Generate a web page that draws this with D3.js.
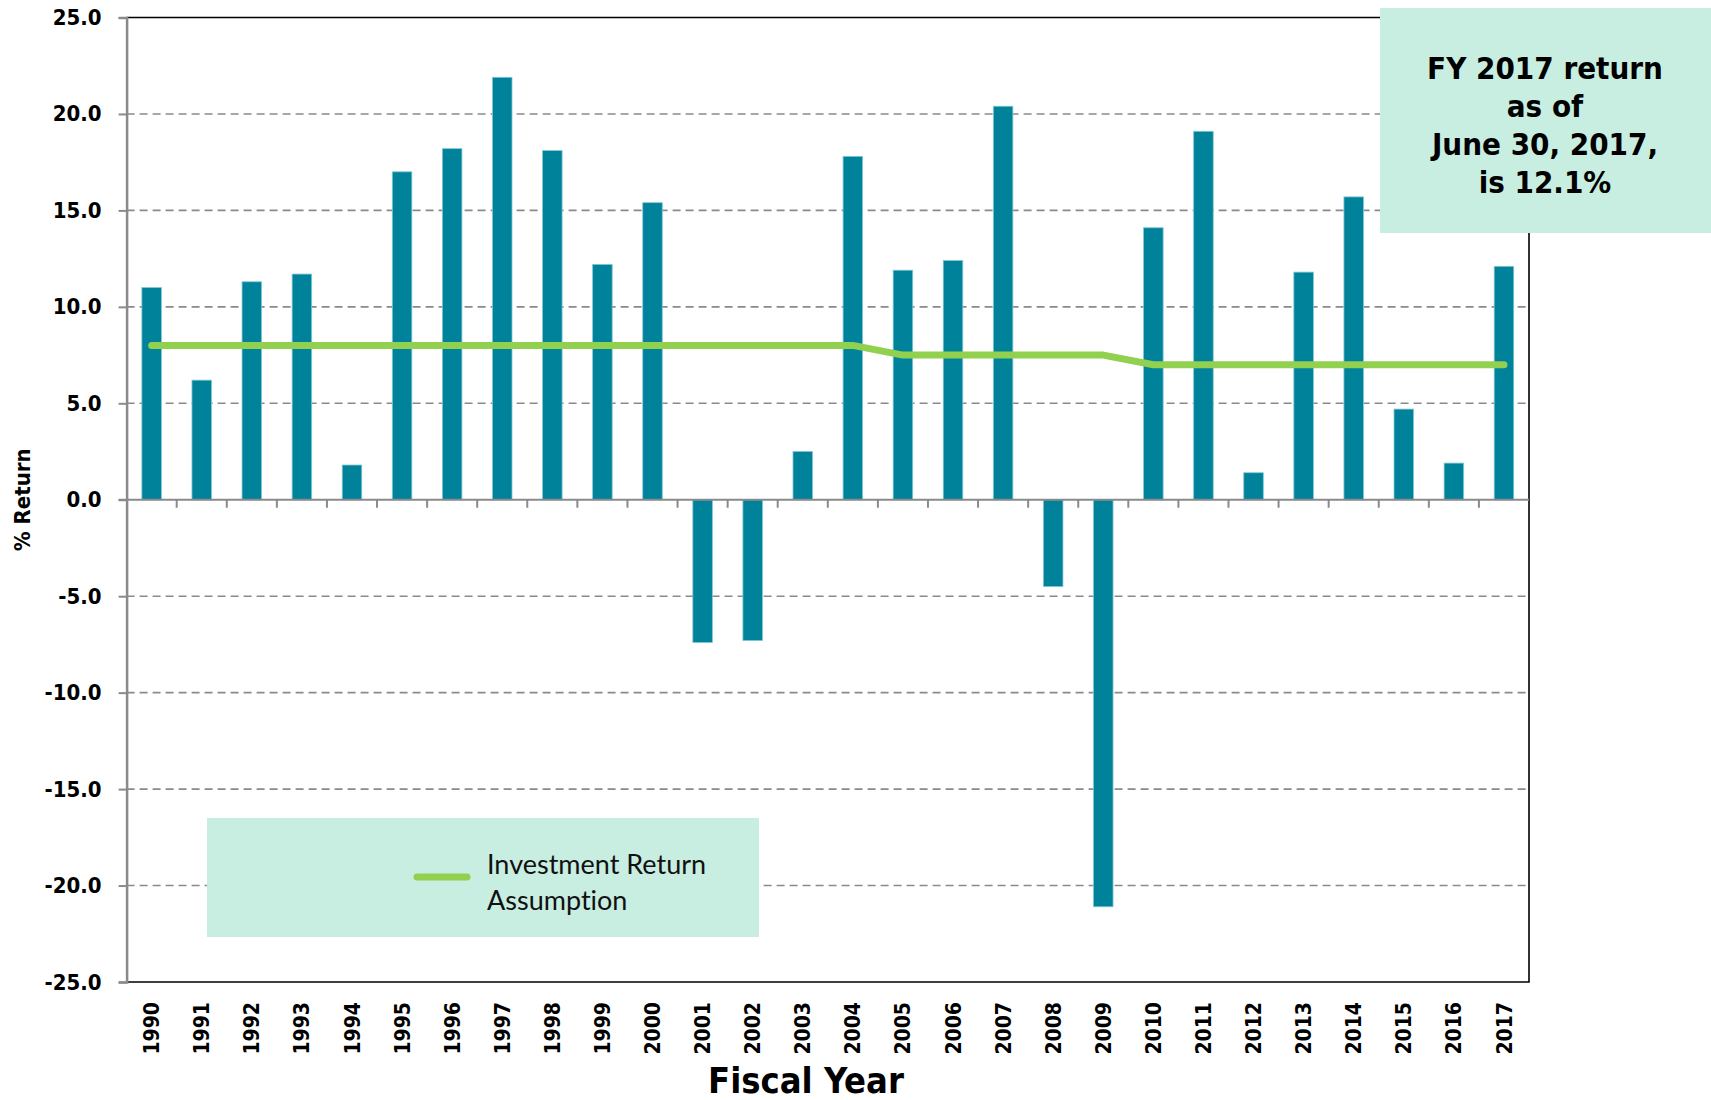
<!DOCTYPE html>
<html>
<head>
<meta charset="utf-8">
<script src="https://cdn.jsdelivr.net/npm/d3@7"></script>
<style>
  html, body { margin: 0; padding: 0; background: #fff; }
  svg { display: block; }
  .bold { font-family: "DejaVu Sans Condensed", "DejaVu Sans", sans-serif; font-weight: bold; font-stretch: condensed; }
</style>
</head>
<body>
<svg id="chart" width="1711" height="1100"></svg>
<script>
// data
const years = d3.range(1990, 2018).map(String);
const returns = [11.0, 6.2, 11.3, 11.7, 1.8, 17.0, 18.2, 21.9, 18.1, 12.2,
                 15.4, -7.4, -7.3, 2.5, 17.8, 11.9, 12.4, 20.4, -4.5, -21.1,
                 14.1, 19.1, 1.4, 11.8, 15.7, 4.7, 1.9, 12.1];
const assumption = [8.0, 8.0, 8.0, 8.0, 8.0, 8.0, 8.0, 8.0, 8.0, 8.0,
                    8.0, 8.0, 8.0, 8.0, 8.0, 7.5, 7.5, 7.5, 7.5, 7.5,
                    7.0, 7.0, 7.0, 7.0, 7.0, 7.0, 7.0, 7.0];
const yTicks = [-25, -20, -15, -10, -5, 0, 5, 10, 15, 20, 25];
const noteLines = ["FY 2017 return", "as of", "June 30, 2017,", "is 12.1%"];
const legendLines = ["Investment Return", "Assumption"];

const barColor = "#00829b",
      lineColor = "#92d050",
      boxColor = "#c7eee1";

const svg = d3.select("#chart");
const plotL = 126.6, plotR = 1529, plotT = 17.5, plotB = 982;

const x = d3.scaleBand()
  .domain(years)
  .range([plotL, plotR])
  .paddingInner(0.61)
  .paddingOuter(0.305);

const y = d3.scaleLinear()
  .domain([-25, 25])
  .range([plotB, plotT]);

// dashed gridlines
svg.append("g")
  .selectAll("line")
  .data(yTicks.filter(d => d !== 0 && Math.abs(d) !== 25))
  .join("line")
    .attr("x1", plotL).attr("x2", plotR)
    .attr("y1", d => y(d)).attr("y2", d => y(d))
    .attr("stroke", "#8a8a8a")
    .attr("stroke-width", 1.6)
    .attr("stroke-dasharray", "8,5");

// frame: top, right, bottom in black
svg.append("path")
  .attr("d", `M${plotL},${y(25)}H${plotR}V${y(-25)}H${plotL}`)
  .attr("fill", "none")
  .attr("stroke", "#000")
  .attr("stroke-width", 1.6);

// bars
svg.append("g")
  .selectAll("rect")
  .data(years.map((yr, i) => ({ yr, v: returns[i] })))
  .join("rect")
    .attr("x", d => x(d.yr))
    .attr("width", x.bandwidth())
    .attr("y", d => y(Math.max(0, d.v)))
    .attr("height", d => Math.abs(y(d.v) - y(0)))
    .attr("fill", barColor)
    .attr("stroke", "#7fc8d4")
    .attr("stroke-width", 0.8);

// zero axis with downward ticks at band boundaries
svg.append("line")
  .attr("x1", plotL - 8).attr("x2", plotR)
  .attr("y1", y(0)).attr("y2", y(0))
  .attr("stroke", "#8a8a8a")
  .attr("stroke-width", 2);

svg.append("g")
  .selectAll("line")
  .data(years.slice(1))
  .join("line")
    .attr("x1", d => x(d) - x.step() * x.paddingInner() / 2)
    .attr("x2", d => x(d) - x.step() * x.paddingInner() / 2)
    .attr("y1", y(0)).attr("y2", y(0) + 8)
    .attr("stroke", "#8a8a8a")
    .attr("stroke-width", 2);

// left axis
const yAxis = svg.append("g")
  .attr("transform", `translate(${plotL},0)`)
  .call(d3.axisLeft(y).tickValues(yTicks).tickSize(8).tickPadding(17));
yAxis.select(".domain").attr("stroke", "#8a8a8a").attr("stroke-width", 2.5);
yAxis.selectAll(".tick line").attr("stroke", "#8a8a8a").attr("stroke-width", 2);
yAxis.selectAll(".tick text")
  .attr("class", "bold")
  .style("font-size", "22px")
  .attr("fill", "#000")
  .text(d => d3.format(".1f")(d).replace("−", "-"));

// x labels, rotated
svg.append("g")
  .selectAll("text")
  .data(years)
  .join("text")
    .attr("class", "bold")
    .attr("transform", d => `translate(${x(d) + x.bandwidth() / 2},1002) rotate(-90)`)
    .attr("text-anchor", "end")
    .attr("dy", "0.36em")
    .style("font-size", "21px")
    .text(d => d);

// assumption line
const line = d3.line()
  .x((d, i) => x(years[i]) + x.bandwidth() / 2)
  .y(d => y(d));

svg.append("path")
  .datum(assumption)
  .attr("d", line)
  .attr("fill", "none")
  .attr("stroke", lineColor)
  .attr("stroke-width", 7)
  .attr("stroke-linecap", "round")
  .attr("stroke-linejoin", "round");

// legend box
svg.append("rect")
  .attr("x", 207).attr("y", 818)
  .attr("width", 552).attr("height", 119)
  .attr("fill", boxColor);

svg.append("line")
  .attr("x1", 417).attr("x2", 467)
  .attr("y1", 877).attr("y2", 877)
  .attr("stroke", lineColor)
  .attr("stroke-width", 7)
  .attr("stroke-linecap", "round");

svg.append("g")
  .selectAll("text")
  .data(legendLines)
  .join("text")
    .attr("x", 487)
    .attr("y", (d, i) => 874 + i * 36)
    .style("font-family", "Lato, 'Open Sans', sans-serif")
    .style("font-size", "27px")
    .style("font-variant-ligatures", "none")
    .attr("fill", "#111")
    .text(d => d);

// annotation box
svg.append("rect")
  .attr("x", 1380).attr("y", 8)
  .attr("width", 331).attr("height", 225)
  .attr("fill", boxColor);

svg.append("g")
  .selectAll("text")
  .data(noteLines)
  .join("text")
    .attr("class", "bold")
    .attr("x", 1545)
    .attr("y", (d, i) => 79 + i * 38)
    .attr("text-anchor", "middle")
    .style("font-size", "31px")
    .text(d => d);

// axis titles
svg.append("text")
  .attr("class", "bold")
  .attr("transform", `translate(30,${(plotT + plotB) / 2}) rotate(-90)`)
  .attr("text-anchor", "middle")
  .style("font-size", "22px")
  .text("% Return");

svg.append("text")
  .attr("class", "bold")
  .attr("x", 806)
  .attr("y", 1093)
  .attr("text-anchor", "middle")
  .style("font-size", "36px")
  .text("Fiscal Year");
</script>
</body>
</html>
